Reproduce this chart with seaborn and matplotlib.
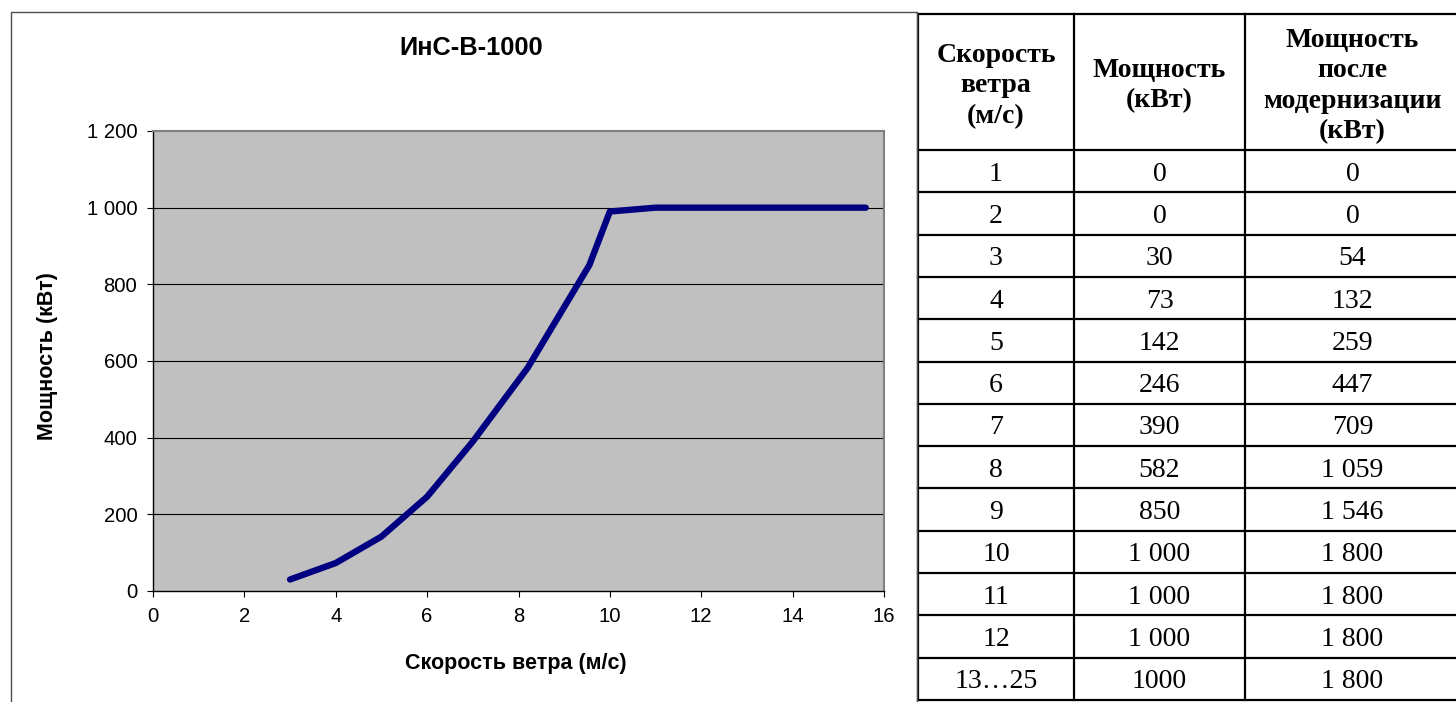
import matplotlib
matplotlib.use("Agg")
import matplotlib.pyplot as plt
import matplotlib.ticker as mticker
from matplotlib.patches import Rectangle
import seaborn as sns
import pandas as pd

# ---- chart data ----
wind_speed = [3, 4, 5, 6, 7, 8.2, 9.55, 10, 11, 15.6]
power_kw = [30, 73, 142, 246, 390, 582, 850, 990, 1000, 1000]
title = "ИнС-В-1000"
x_label = "Скорость ветра (м/с)"
y_label = "Мощность (кВт)"
x_ticks = [0, 2, 4, 6, 8, 10, 12, 14, 16]
y_ticks = [0, 200, 400, 600, 800, 1000, 1200]

# ---- table data ----
table_headers = ["Скорость\nветра\n(м/с)", "Мощность\n(кВт)", "Мощность\nпосле\nмодернизации\n(кВт)"]
table_speed = ["1", "2", "3", "4", "5", "6", "7", "8", "9", "10", "11", "12", "13…25"]
table_power = ["0", "0", "30", "73", "142", "246", "390", "582", "850", "1 000", "1 000", "1 000", "1000"]
table_power_mod = ["0", "0", "54", "132", "259", "447", "709", "1 059", "1 546", "1 800", "1 800", "1 800", "1 800"]

sns.set_theme(style="white")
plt.rcParams["font.family"] = ["Liberation Sans", "DejaVu Sans"]

W, H = 1456, 702
fig = plt.figure(figsize=(W / 100, H / 100), dpi=100)
fig.patch.set_facecolor("white")

# outer chart frame
fig.patches.append(Rectangle((11 / W, -0.2), (917 - 11) / W, 0.2 + 1 - 12 / H,
                             transform=fig.transFigure, fill=False,
                             edgecolor="#505050", linewidth=1.0))

# ---- chart ----
ax = fig.add_axes([153 / W, (H - 591) / H, (884 - 153) / W, (591 - 131) / H])
ax.set_facecolor("#C0C0C0")
df = pd.DataFrame({"x": wind_speed, "y": power_kw})
sns.lineplot(data=df, x="x", y="y", ax=ax, color="#000080", linewidth=4.6,
             solid_capstyle="round", solid_joinstyle="round", zorder=3)
ax.set_xlim(0, 16)
ax.set_ylim(0, 1200)
ax.set_xticks(x_ticks)
ax.set_yticks(y_ticks)
ax.yaxis.set_major_formatter(mticker.FuncFormatter(lambda v, p: f"{int(v):,}".replace(",", " ")))
for yv in y_ticks[1:-1]:
    ax.axhline(yv, color="black", linewidth=0.8, zorder=1)
for s in ["top", "right"]:
    ax.spines[s].set_visible(True)
    ax.spines[s].set_color("#808080")
    ax.spines[s].set_linewidth(1.5)
for s in ["left", "bottom"]:
    ax.spines[s].set_visible(True)
    ax.spines[s].set_color("black")
    ax.spines[s].set_linewidth(1.0)
ax.tick_params(axis="both", which="major", direction="out", length=4.3, width=0.8,
               color="black", labelsize=14.6, labelcolor="black")
ax.tick_params(axis="x", pad=7)
ax.tick_params(axis="y", pad=7, left=True)
ax.tick_params(axis="x", bottom=True)
ax.set_xlabel(x_label, fontsize=15.5, fontweight="bold", color="black")
ax.set_ylabel(y_label, fontsize=15.5, fontweight="bold", color="black")
ax.xaxis.set_label_coords(0.497, (591 - 663) / 460)
ax.xaxis.label.set_va("center")
ax.yaxis.set_label_coords((47 - 153) / 731, 0.51)
ax.yaxis.label.set_va("center")
fig.text(471 / W, 1 - 48 / H, title, ha="center", va="center",
         fontsize=18.3, fontweight="bold", color="black")

# ---- table ----
tax = fig.add_axes([918 / W, 2 / H, 542 / W, 686 / H])
tax.set_xlim(0, 542)
tax.set_ylim(686, 0)
tax.axis("off")
col_edges = [0, 156, 327, 542]
header_h = 136
n_rows = len(table_speed)
row_h = (686 - header_h) / n_rows
row_edges = [0, header_h] + [header_h + row_h * (i + 1) for i in range(n_rows)]
lw = 1.6
for xe in col_edges:
    tax.plot([xe, xe], [0, 686], color="black", linewidth=lw, solid_capstyle="projecting",
             clip_on=False)
for ye in row_edges:
    tax.plot([0, 542], [ye, ye], color="black", linewidth=lw, solid_capstyle="projecting",
             clip_on=False)
serif = ["Liberation Serif", "DejaVu Serif"]
for ci, htxt in enumerate(table_headers):
    cx = (col_edges[ci] + col_edges[ci + 1]) / 2
    tax.text(cx, header_h / 2 + 4, htxt, ha="center", va="center", family=serif,
             fontsize=20, fontweight="bold", linespacing=1.27, color="black")
for ri in range(n_rows):
    cy = header_h + row_h * (ri + 0.5)
    for ci, col in enumerate([table_speed, table_power, table_power_mod]):
        cx = (col_edges[ci] + col_edges[ci + 1]) / 2
        tax.text(cx, cy, col[ri], ha="center", va="center_baseline", family=serif,
                 fontsize=20, color="black")

fig.savefig("out.png", dpi=100)
